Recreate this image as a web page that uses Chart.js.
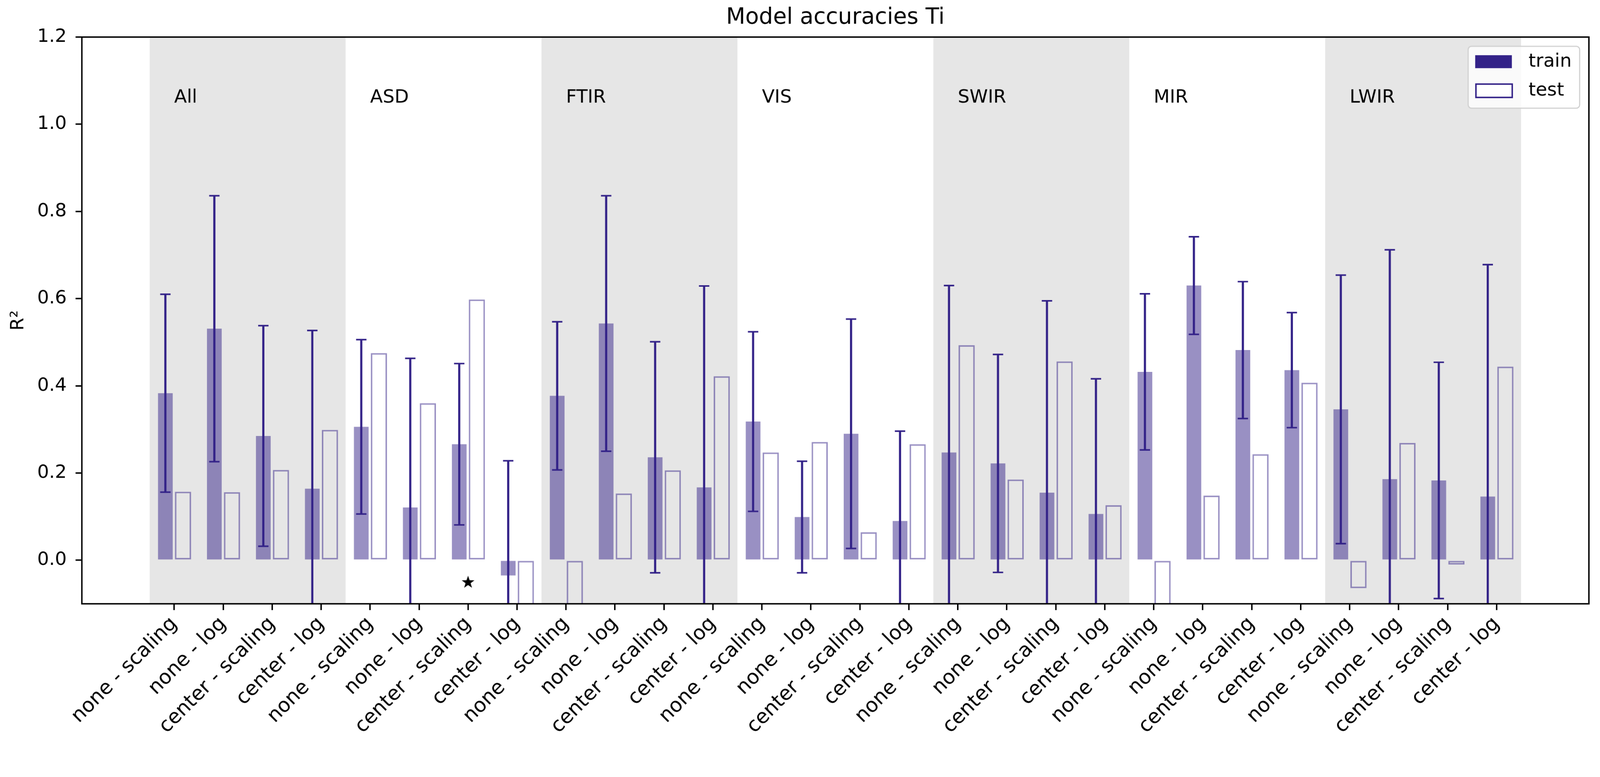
<!DOCTYPE html>
<html>
<head>
<meta charset="utf-8">
<script src="https://cdn.jsdelivr.net/npm/chart.js@4/dist/chart.umd.min.js"></script>
<style>
html,body{margin:0;padding:0;background:#ffffff;overflow:hidden;}
canvas{display:block;}
</style>
</head>
<body>
<canvas id="c" width="4320" height="1989"></canvas>
<script>
// ---------------- data ----------------
const groups = ['All', 'ASD', 'FTIR', 'VIS', 'SWIR', 'MIR', 'LWIR'];
const methods = ['none - scaling', 'none - log', 'center - scaling', 'center - log'];
const categories = groups.flatMap(() => methods);

const trainMean = [
  0.383, 0.531, 0.285, 0.164,
  0.306, 0.121, 0.266, -0.035,
  0.377, 0.543, 0.236, 0.167,
  0.318, 0.099, 0.290, 0.090,
  0.247, 0.222, 0.155, 0.106,
  0.432, 0.630, 0.482, 0.436,
  0.346, 0.186, 0.183, 0.146
];
const trainStd = [
  0.227, 0.305, 0.253, 0.363,
  0.200, 0.342, 0.185, 0.263,
  0.170, 0.293, 0.265, 0.462,
  0.206, 0.128, 0.263, 0.206,
  0.383, 0.250, 0.440, 0.310,
  0.179, 0.112, 0.157, 0.132,
  0.308, 0.526, 0.271, 0.532
];
const testMean = [
  0.157, 0.156, 0.207, 0.299,
  0.475, 0.360, 0.598, -0.20,
  -0.20, 0.153, 0.206, 0.422,
  0.247, 0.271, 0.064, 0.266,
  0.493, 0.185, 0.456, 0.126,
  -0.20, 0.148, 0.243, 0.407,
  -0.064, 0.269, -0.010, 0.444
];
const starPoints = [{ x: 6, y: -0.05 }];
const yTicks = [0.0, 0.2, 0.4, 0.6, 0.8, 1.0, 1.2];
const yRange = [-0.1, 1.2];
const groupLabelY = 1.05;

// ---------------- canvas sizing (fit the viewport, draw at 4320x1989) ----------------
const canvasEl = document.getElementById('c');
const vw = window.innerWidth || 4320;
canvasEl.style.width = vw + 'px';
canvasEl.style.height = (vw * 1989 / 4320) + 'px';

// ---------------- styles ----------------
const INDIGO = '#332288';
const FONT = "'DejaVu Sans', 'Liberation Sans', sans-serif";
Chart.defaults.font.family = FONT;
Chart.defaults.color = '#000000';

function makeStar() {
  const c = document.createElement('canvas');
  c.width = 42; c.height = 42;
  const g = c.getContext('2d');
  const R = 18, r = 7.2, cx = 21, cy = 22;
  g.beginPath();
  for (let k = 0; k < 10; k++) {
    const rad = k % 2 === 0 ? R : r;
    const ang = -Math.PI / 2 + k * Math.PI / 5;
    const px = cx + rad * Math.cos(ang), py = cy + rad * Math.sin(ang);
    if (k === 0) g.moveTo(px, py); else g.lineTo(px, py);
  }
  g.closePath();
  g.fillStyle = '#000';
  g.fill();
  return c;
}

// ---------------- plugins ----------------
const bandPlugin = {
  id: 'bands',
  beforeDatasetsDraw(chart) {
    const { ctx, chartArea: a } = chart;
    const x = chart.scales.x, y = chart.scales.y;
    ctx.save();
    ctx.beginPath();
    ctx.rect(a.left, a.top, a.right - a.left, a.bottom - a.top);
    ctx.clip();
    const n = methods.length;
    groups.forEach((g, gi) => {
      if (gi % 2 === 0) {
        const x0 = x.getPixelForValue(gi * n - 0.5);
        const x1 = x.getPixelForValue(gi * n + n - 0.5);
        ctx.fillStyle = '#e6e6e6';
        ctx.fillRect(x0, a.top, x1 - x0, a.bottom - a.top);
      }
    });
    ctx.fillStyle = '#000';
    ctx.font = '50px ' + FONT;
    ctx.textAlign = 'left';
    ctx.textBaseline = 'alphabetic';
    groups.forEach((g, gi) => {
      ctx.fillText(g, x.getPixelForValue(gi * n), y.getPixelForValue(groupLabelY));
    });
    ctx.restore();
  }
};

const errorBarPlugin = {
  id: 'errorBars',
  afterDatasetsDraw(chart) {
    const { ctx, chartArea: a } = chart;
    const y = chart.scales.y;
    const ds = chart.data.datasets[0];
    const meta = chart.getDatasetMeta(0);
    ctx.save();
    ctx.beginPath();
    ctx.rect(a.left, a.top, a.right - a.left, a.bottom - a.top);
    ctx.clip();
    ctx.strokeStyle = INDIGO;
    meta.data.forEach((bar, i) => {
      const v = ds.data[i].y, e = ds.errors[i];
      const hi = y.getPixelForValue(v + e);
      const lo = y.getPixelForValue(v - e);
      ctx.lineWidth = 5.8;
      ctx.beginPath();
      ctx.moveTo(bar.x, hi); ctx.lineTo(bar.x, lo);
      ctx.stroke();
      ctx.lineWidth = 4.2;
      ctx.beginPath();
      ctx.moveTo(bar.x - 14, hi); ctx.lineTo(bar.x + 14, hi);
      ctx.moveTo(bar.x - 14, lo); ctx.lineTo(bar.x + 14, lo);
      ctx.stroke();
    });
    ctx.restore();
  }
};

const framePlugin = {
  id: 'frame',
  afterDatasetsDraw(chart) {
    const { ctx, chartArea: a } = chart;
    ctx.save();
    ctx.strokeStyle = '#000';
    ctx.lineWidth = 3.9;
    ctx.strokeRect(a.left, a.top, a.right - a.left, a.bottom - a.top);
    ctx.restore();
  }
};

const legendPlugin = {
  id: 'boxLegend',
  afterDraw(chart) {
    const { ctx, chartArea: a } = chart;
    const ds = chart.data.datasets;
    const right = a.right - 25, top = a.top + 25;
    const w = 301, h = 167;
    const left = right - w;
    ctx.save();
    ctx.beginPath();
    ctx.roundRect(left, top, w, h, 9);
    ctx.fillStyle = 'rgba(255,255,255,0.8)';
    ctx.fill();
    ctx.strokeStyle = '#d0d0d0';
    ctx.lineWidth = 3;
    ctx.stroke();
    const hx = left + 19;
    ctx.fillStyle = INDIGO;
    ctx.fillRect(hx, top + 24, 99, 35);
    ctx.fillStyle = '#ffffff';
    ctx.fillRect(hx + 2, top + 102, 98, 36);
    ctx.strokeStyle = INDIGO;
    ctx.lineWidth = 4;
    ctx.strokeRect(hx + 2, top + 102, 98, 36);
    ctx.fillStyle = '#000';
    ctx.font = '50px ' + FONT;
    ctx.textAlign = 'left';
    ctx.textBaseline = 'middle';
    ctx.fillText(ds[0].label, left + 163, top + 42);
    ctx.fillText(ds[1].label, left + 163, top + 120);
    ctx.restore();
  }
};

// ---------------- chart ----------------
new Chart(canvasEl, {
  type: 'bar',
  data: {
    datasets: [
      {
        label: 'train',
        data: trainMean.map((v, i) => ({ x: i, y: v })),
        errors: trainStd,
        backgroundColor: 'rgba(51,34,136,0.5)',
        borderWidth: 0,
        barPercentage: 0.834,
        categoryPercentage: 0.72,
        clip: 0
      },
      {
        label: 'test',
        data: testMean.map((v, i) => ({ x: i, y: v })),
        backgroundColor: 'rgba(0,0,0,0)',
        borderColor: 'rgba(51,34,136,0.5)',
        borderWidth: 4,
        borderSkipped: false,
        barPercentage: 0.918,
        categoryPercentage: 0.72,
        clip: 0
      },
      {
        type: 'scatter',
        label: 'marker',
        data: starPoints,
        pointStyle: makeStar(),
        pointRadius: 18,
        showLine: false
      }
    ]
  },
  options: {
    responsive: false,
    devicePixelRatio: 1,
    animation: false,
    events: [],
    layout: { padding: { left: 0, right: 30, top: 0, bottom: 0 } },
    plugins: {
      legend: { display: false },
      tooltip: { enabled: false },
      title: {
        display: true,
        fullSize: false,
        text: 'Model accuracies Ti',
        color: '#000',
        font: { size: 60, weight: 'normal', family: FONT },
        padding: { top: 12, bottom: 16 }
      }
    },
    scales: {
      x: {
        type: 'linear',
        min: -1.885,
        max: categories.length - 1 + 1.885,
        offset: false,
        grid: { display: true, offset: false, drawOnChartArea: false, drawTicks: true, tickLength: 17, color: '#000', lineWidth: 3.9 },
        border: { display: false },
        afterBuildTicks: (s) => { s.ticks = categories.map((_, i) => ({ value: i })); },
        afterFit: (s) => { s.height = 359; },
        ticks: {
          autoSkip: false,
          minRotation: 45,
          maxRotation: 45,
          padding: 6,
          color: '#000',
          font: { size: 54, family: FONT },
          callback: (v) => categories[v]
        }
      },
      y: {
        type: 'linear',
        min: yRange[0],
        max: yRange[1],
        grid: { display: true, drawOnChartArea: false, drawTicks: true, tickLength: 17, color: '#000', lineWidth: 3.9 },
        border: { display: false },
        afterBuildTicks: (s) => { s.ticks = yTicks.map(v => ({ value: v })); },
        afterFit: (s) => { s.width = 221; },
        ticks: {
          padding: 24,
          color: '#000',
          font: { size: 50, family: FONT },
          callback: (v) => Number(v).toFixed(1)
        },
        title: {
          display: true,
          text: 'R²',
          color: '#000',
          font: { size: 50, family: FONT },
          padding: { top: 20, bottom: 0 }
        }
      }
    }
  },
  plugins: [bandPlugin, errorBarPlugin, framePlugin, legendPlugin]
});
</script>
</body>
</html>
